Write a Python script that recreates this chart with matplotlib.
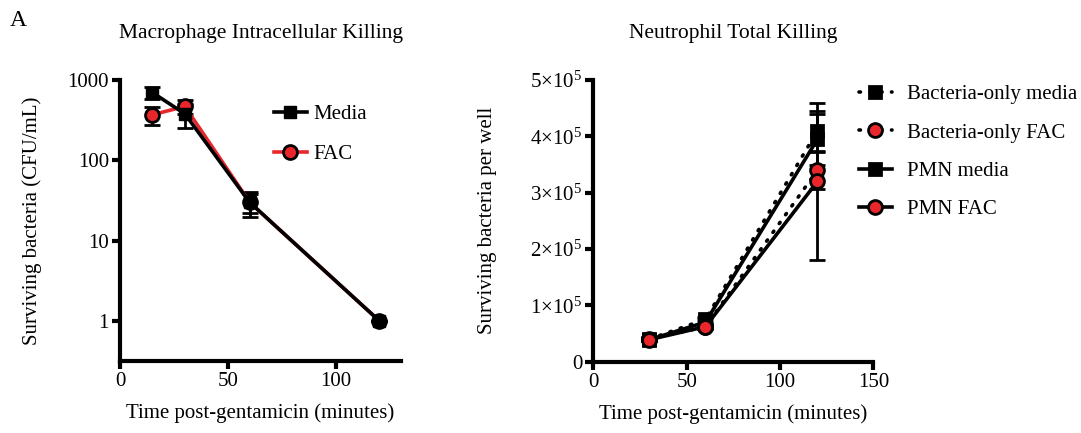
import matplotlib.pyplot as plt
from matplotlib.ticker import FixedLocator, FuncFormatter

plt.rcParams['font.family'] = ['Liberation Serif', 'DejaVu Serif']
plt.rcParams['mathtext.fontset'] = 'custom'
plt.rcParams['mathtext.rm'] = 'Liberation Serif'
plt.rcParams['font.size'] = 14

# Macrophage intracellular killing (CFU/mL)
mac_time = [15, 30, 60, 120]
mac_media = [700, 380, 30, 1]
mac_media_err = [110, 130, 10, 0]
mac_fac = [370, 470, 30, 1]
mac_fac_err = [95, 95, 8, 0]

# Neutrophil total killing (bacteria per well)
pmn_time = [30, 60, 120]
bact_media = [40000, 75000, 410000]
bact_media_err = [3000, 5000, 36000]
bact_fac = [40000, 62000, 340000]
bact_fac_err = [3000, 4000, 33000]
pmn_media = [39000, 70000, 395000]
pmn_media_err = [3000, 5000, 45000]
pmn_fac = [39000, 62000, 320000]
pmn_fac_err = [3000, 4000, 140000]

LW = 2.6
RED = '#e8262b'
ERR = dict(fmt='none', ecolor='black', elinewidth=2, capsize=6, capthick=2)
DOTTED = (0, (0.4, 2.6))


def style_axes(ax):
    for side in ['top', 'right']:
        ax.spines[side].set_visible(False)
    for side in ['left', 'bottom']:
        ax.spines[side].set_linewidth(3)
    ax.tick_params(width=3, length=6, labelsize=15, pad=2)
    ax.tick_params(which='minor', length=0)


fig = plt.figure(figsize=(10.81, 4.33), dpi=100)

# left panel
ax1 = fig.add_axes([0.111, 0.167, 0.260, 0.648])
ax1.errorbar(mac_time, mac_fac, yerr=mac_fac_err, zorder=2, **ERR)
ax1.errorbar(mac_time, mac_media, yerr=mac_media_err, zorder=2, **ERR)
ax1.plot(mac_time, mac_fac, color=RED, lw=LW, marker='o', ms=10,
         mfc=RED, mec='black', mew=2, label='FAC', zorder=3)
ax1.plot(mac_time, mac_media, color='black', lw=LW, marker='s', ms=9,
         mfc='black', mec='black', label='Media', zorder=4)
ax1.plot([120], [1], 'o', color='black', ms=10, zorder=5)
ax1.set_yscale('log')
ax1.set_ylim(0.32, 1000)
ax1.set_xlim(0, 130)
ax1.set_xticks([0, 50, 100])
ax1.yaxis.set_major_locator(FixedLocator([1, 10, 100, 1000]))
ax1.yaxis.set_major_formatter(FuncFormatter(lambda v, p: f'{v:g}'))
style_axes(ax1)
ax1.set_xlabel('Time post-gentamicin (minutes)', fontsize=15, labelpad=9)
ax1.set_ylabel('Surviving bacteria (CFU/mL)', fontsize=15, labelpad=18)
ax1.set_title('Macrophage Intracellular Killing', fontsize=15.5, pad=30)
h, l = ax1.get_legend_handles_labels()
ax1.legend(h[::-1], l[::-1], loc='upper left', bbox_to_anchor=(0.48, 0.98),
           frameon=False, fontsize=15, handlelength=1.6, handletextpad=0.3,
           labelspacing=1.0)

# right panel
ax2 = fig.add_axes([0.549, 0.165, 0.259, 0.65])
series = [
    (bact_media, bact_media_err, DOTTED, 's', 'black', 'Bacteria-only media'),
    (bact_fac, bact_fac_err, DOTTED, 'o', RED, 'Bacteria-only FAC'),
    (pmn_media, pmn_media_err, '-', 's', 'black', 'PMN media'),
    (pmn_fac, pmn_fac_err, '-', 'o', RED, 'PMN FAC'),
]
for vals, err, ls, mk, fc, lab in series:
    ax2.errorbar(pmn_time, vals, yerr=err, zorder=2, **ERR)
    ax2.plot(pmn_time, vals, color='black', ls=ls, lw=LW, marker=mk,
             ms=9 if mk == 's' else 10, mfc=fc, mec='black', mew=2,
             dash_capstyle='round', label=lab, zorder=3)
ax2.set_xlim(0, 150)
ax2.set_ylim(0, 500000)
ax2.set_xticks([0, 50, 100, 150])
ax2.set_yticks([0, 100000, 200000, 300000, 400000, 500000])
ax2.yaxis.set_major_formatter(FuncFormatter(
    lambda v, p: '0' if v == 0 else r'$\mathregular{%d{\times}10^5}$' % round(v / 1e5)))
style_axes(ax2)
ax2.set_xlabel('Time post-gentamicin (minutes)', fontsize=15, labelpad=9)
ax2.set_ylabel('Surviving bacteria per well', fontsize=15, labelpad=24)
ax2.set_title('Neutrophil Total Killing', fontsize=15.5, pad=30)
ax2.legend(loc='upper left', bbox_to_anchor=(0.88, 1.05), frameon=False,
           fontsize=15, handlelength=1.6, handletextpad=0.7, labelspacing=0.9)

fig.text(0.009, 0.94, 'A', fontsize=17)

fig.savefig('out.png', dpi=100)
